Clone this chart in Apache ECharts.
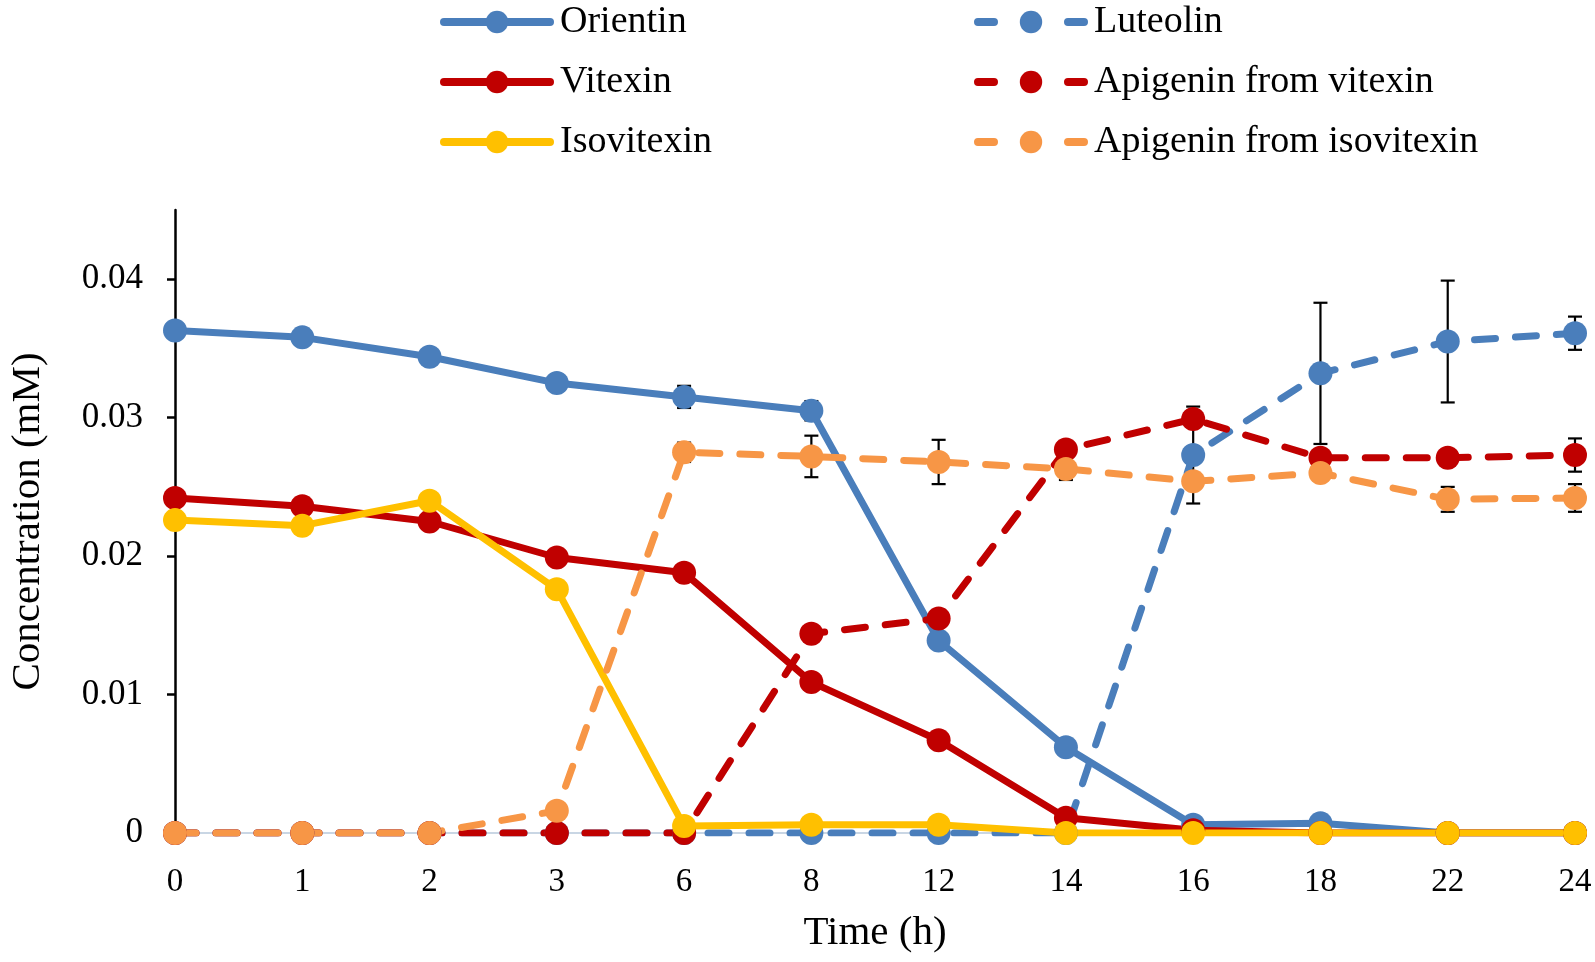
<!DOCTYPE html>
<html>
<head>
<meta charset="utf-8">
<script src="https://cdn.jsdelivr.net/npm/echarts@6/dist/echarts.min.js"></script>
<style>html,body{margin:0;padding:0;background:#fff}#c{width:1595px;height:962px}</style>
</head>
<body>
<div id="c"></div>
<script>
const categories = ['0','1','2','3','6','8','12','14','16','18','22','24'];
const yTicks = [0, 0.01, 0.02, 0.03, 0.04];

const orientin   = [0.0363,0.0358,0.0344,0.0325,0.0315,0.0305,0.0139,0.0062,0.0006,0.0007,0,0];
const luteolin   = [0,0,0,0,0,0,0,0,0.0273,0.0332,0.0355,0.0361];
const vitexin    = [0.0242,0.0236,0.0225,0.0199,0.0188,0.0109,0.0067,0.0011,0.0002,0,0,0];
const apigeninV  = [0,0,0,0,0,0.0144,0.0155,0.0277,0.0299,0.0271,0.0271,0.0273];
const isovitexin = [0.0226,0.0222,0.0240,0.0176,0.0005,0.0006,0.0006,0,0,0,0,0];
const apigeninI  = [0,0,0,0.0016,0.0275,0.0272,0.0268,0.0263,0.0254,0.0260,0.0241,0.0242];

const orientinErr  = [0,0,0,0,0.0008,0.0007,0,0,0,0,0,0];
const luteolinErr  = [0,0,0,0,0,0,0,0,0.0035,0.0051,0.0044,0.0012];
const apigeninVErr = [0,0,0,0,0,0,0,0.0006,0,0,0.0003,0.0012];
const apigeninIErr = [0,0,0,0,0.0007,0.0015,0.0016,0.0008,0,0,0.0009,0.0010];

const BLUE = '#4a7ebb', RED = '#c00000', YELLOW = '#ffc000', ORANGE = '#f79646';
const FONT = '"Liberation Serif","Times New Roman",serif';

function errData(vals, errs) {
  const out = [];
  vals.forEach((v, i) => { if (errs[i] > 0) out.push([i, v, errs[i]]); });
  return out;
}
const errAll = [].concat(
  errData(orientin, orientinErr),
  errData(luteolin, luteolinErr),
  errData(apigeninV, apigeninVErr),
  errData(apigeninI, apigeninIErr)
);

function lineSeries(name, data, color, dashed) {
  return {
    name, type: 'line', data,
    symbol: 'circle', symbolSize: 24, showSymbol: true,
    itemStyle: { color },
    lineStyle: { color, width: 7, type: dashed ? [21, 20] : 'solid', cap: 'round', join: 'round' },
    emphasis: { disabled: true },
    z: 3
  };
}

function legendAt(name, left, top, dashed) {
  return {
    data: [name], left, top, orient: 'horizontal',
    itemWidth: 106, itemHeight: 28, padding: 0, itemGap: 0,
    lineStyle: { width: 8, cap: 'round', type: dashed ? [16, 74] : 'solid' },
    textStyle: { fontFamily: FONT, fontSize: 38, color: '#000', lineHeight: 42, padding: [0, 0, 0, 5] },
    selectedMode: false
  };
}

const chart = echarts.init(document.getElementById('c'));
chart.setOption({
  animation: false,
  backgroundColor: '#fff',
  legend: [
    legendAt('Orientin', 440, 1, false),
    legendAt('Vitexin', 440, 61, false),
    legendAt('Isovitexin', 440, 121, false),
    legendAt('Luteolin', 974, 1, true),
    legendAt('Apigenin from vitexin', 974, 61, true),
    legendAt('Apigenin from isovitexin', 974, 121, true)
  ],
  grid: { left: 173, right: 20, top: 210, bottom: 129, containLabel: false },
  xAxis: {
    type: 'category', data: categories, boundaryGap: false,
    name: 'Time (h)', nameLocation: 'middle', nameGap: 80,
    nameTextStyle: { fontFamily: FONT, fontSize: 41, color: '#000' },
    axisLine: { show: true, lineStyle: { color: '#c9d6e4', width: 2 } },
    axisTick: { show: false },
    axisLabel: { fontFamily: FONT, fontSize: 33, color: '#000', margin: 33 },
    splitLine: { show: false }
  },
  yAxis: {
    type: 'value', min: 0, max: 0.045, interval: 0.01,
    name: 'Concentration (mM)', nameLocation: 'middle', nameGap: 126,
    nameTextStyle: { fontFamily: FONT, fontSize: 41, color: '#000' },
    axisLine: { show: true, lineStyle: { color: '#000', width: 2.5 } },
    axisTick: { show: true, length: 8, lineStyle: { color: '#000', width: 2.5 }, customValues: yTicks },
    axisLabel: { fontFamily: FONT, fontSize: 35, color: '#000', margin: 32, customValues: yTicks,
      formatter: v => String(v) },
    splitLine: { show: false }
  },
  series: [
    {
      type: 'custom', name: 'errors', data: errAll, z: 2, silent: true,
      renderItem: function (params, api) {
        const x = api.value(0), v = api.value(1), e = api.value(2);
        const top = api.coord([x, v + e]);
        const bot = api.coord([x, v - e]);
        const w = 14;
        const st = { stroke: '#000', lineWidth: 2.2 };
        return { type: 'group', children: [
          { type: 'line', shape: { x1: top[0], y1: top[1], x2: bot[0], y2: bot[1] }, style: st },
          { type: 'line', shape: { x1: top[0] - w/2, y1: top[1], x2: top[0] + w/2, y2: top[1] }, style: st },
          { type: 'line', shape: { x1: bot[0] - w/2, y1: bot[1], x2: bot[0] + w/2, y2: bot[1] }, style: st }
        ]};
      }
    },
    lineSeries('Orientin', orientin, BLUE, false),
    lineSeries('Luteolin', luteolin, BLUE, true),
    lineSeries('Vitexin', vitexin, RED, false),
    lineSeries('Apigenin from vitexin', apigeninV, RED, true),
    lineSeries('Isovitexin', isovitexin, YELLOW, false),
    lineSeries('Apigenin from isovitexin', apigeninI, ORANGE, true)
  ]
});
</script>
</body>
</html>
